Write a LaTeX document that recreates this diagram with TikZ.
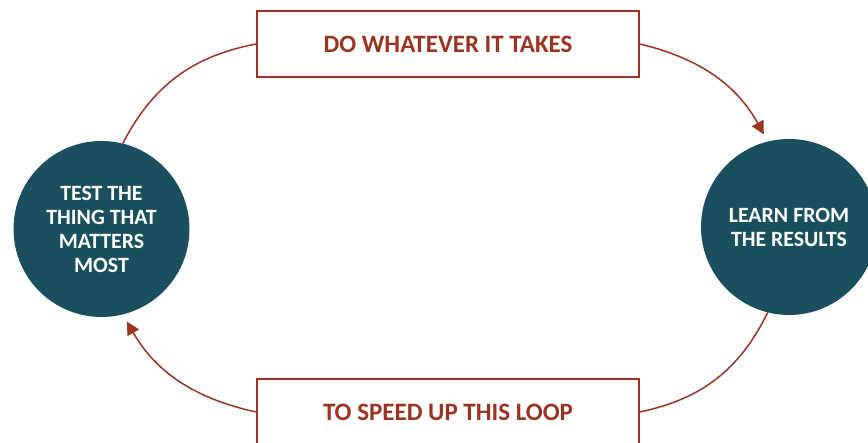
\documentclass[tikz,border=0pt]{standalone}
\usepackage{fontspec}
\setmainfont{Carlito}
\usetikzlibrary{arrows.meta}
\definecolor{teal1}{HTML}{1A505D}
\definecolor{rust}{HTML}{9A3322}
\tikzset{
  stepcircle/.style={circle,fill=teal1,minimum size=176pt,inner sep=0pt,text=white,
    font=\bfseries\fontsize{21.8}{24}\selectfont,align=center},
  labelbox/.style={draw=rust,line width=1.6pt,minimum width=382pt,minimum height=66pt,
    inner sep=0pt,text=rust,font=\bfseries\fontsize{25}{28}\selectfont},
  loopline/.style={draw=rust,line width=1.5pt},
  looparrow/.style={loopline,-{Triangle[length=13pt,width=13pt]},shorten >=8pt}
}
\begin{document}
\begin{tikzpicture}[x=1pt,y=1pt]
\useasboundingbox (0,0) rectangle (868,443);
\node[stepcircle] (test) at (101.5,214) {TEST THE\\THING THAT\\MATTERS\\MOST};
\node[stepcircle] (learn) at (789,216) {LEARN FROM\\THE RESULTS};
\node[labelbox] (top) at (448,399) {DO WHATEVER IT TAKES};
\node[labelbox] (bot) at (448,31) {TO SPEED UP THIS LOOP};
\draw[loopline] (test.76) to[bend left=26] (top.west);
\draw[looparrow] (top.east) to[bend left=24] (learn.104);
\draw[loopline] (learn.-104) to[bend left=26] (bot.east);
\draw[looparrow] (bot.west) to[bend left=24] (test.-76);
\end{tikzpicture}
\end{document}
